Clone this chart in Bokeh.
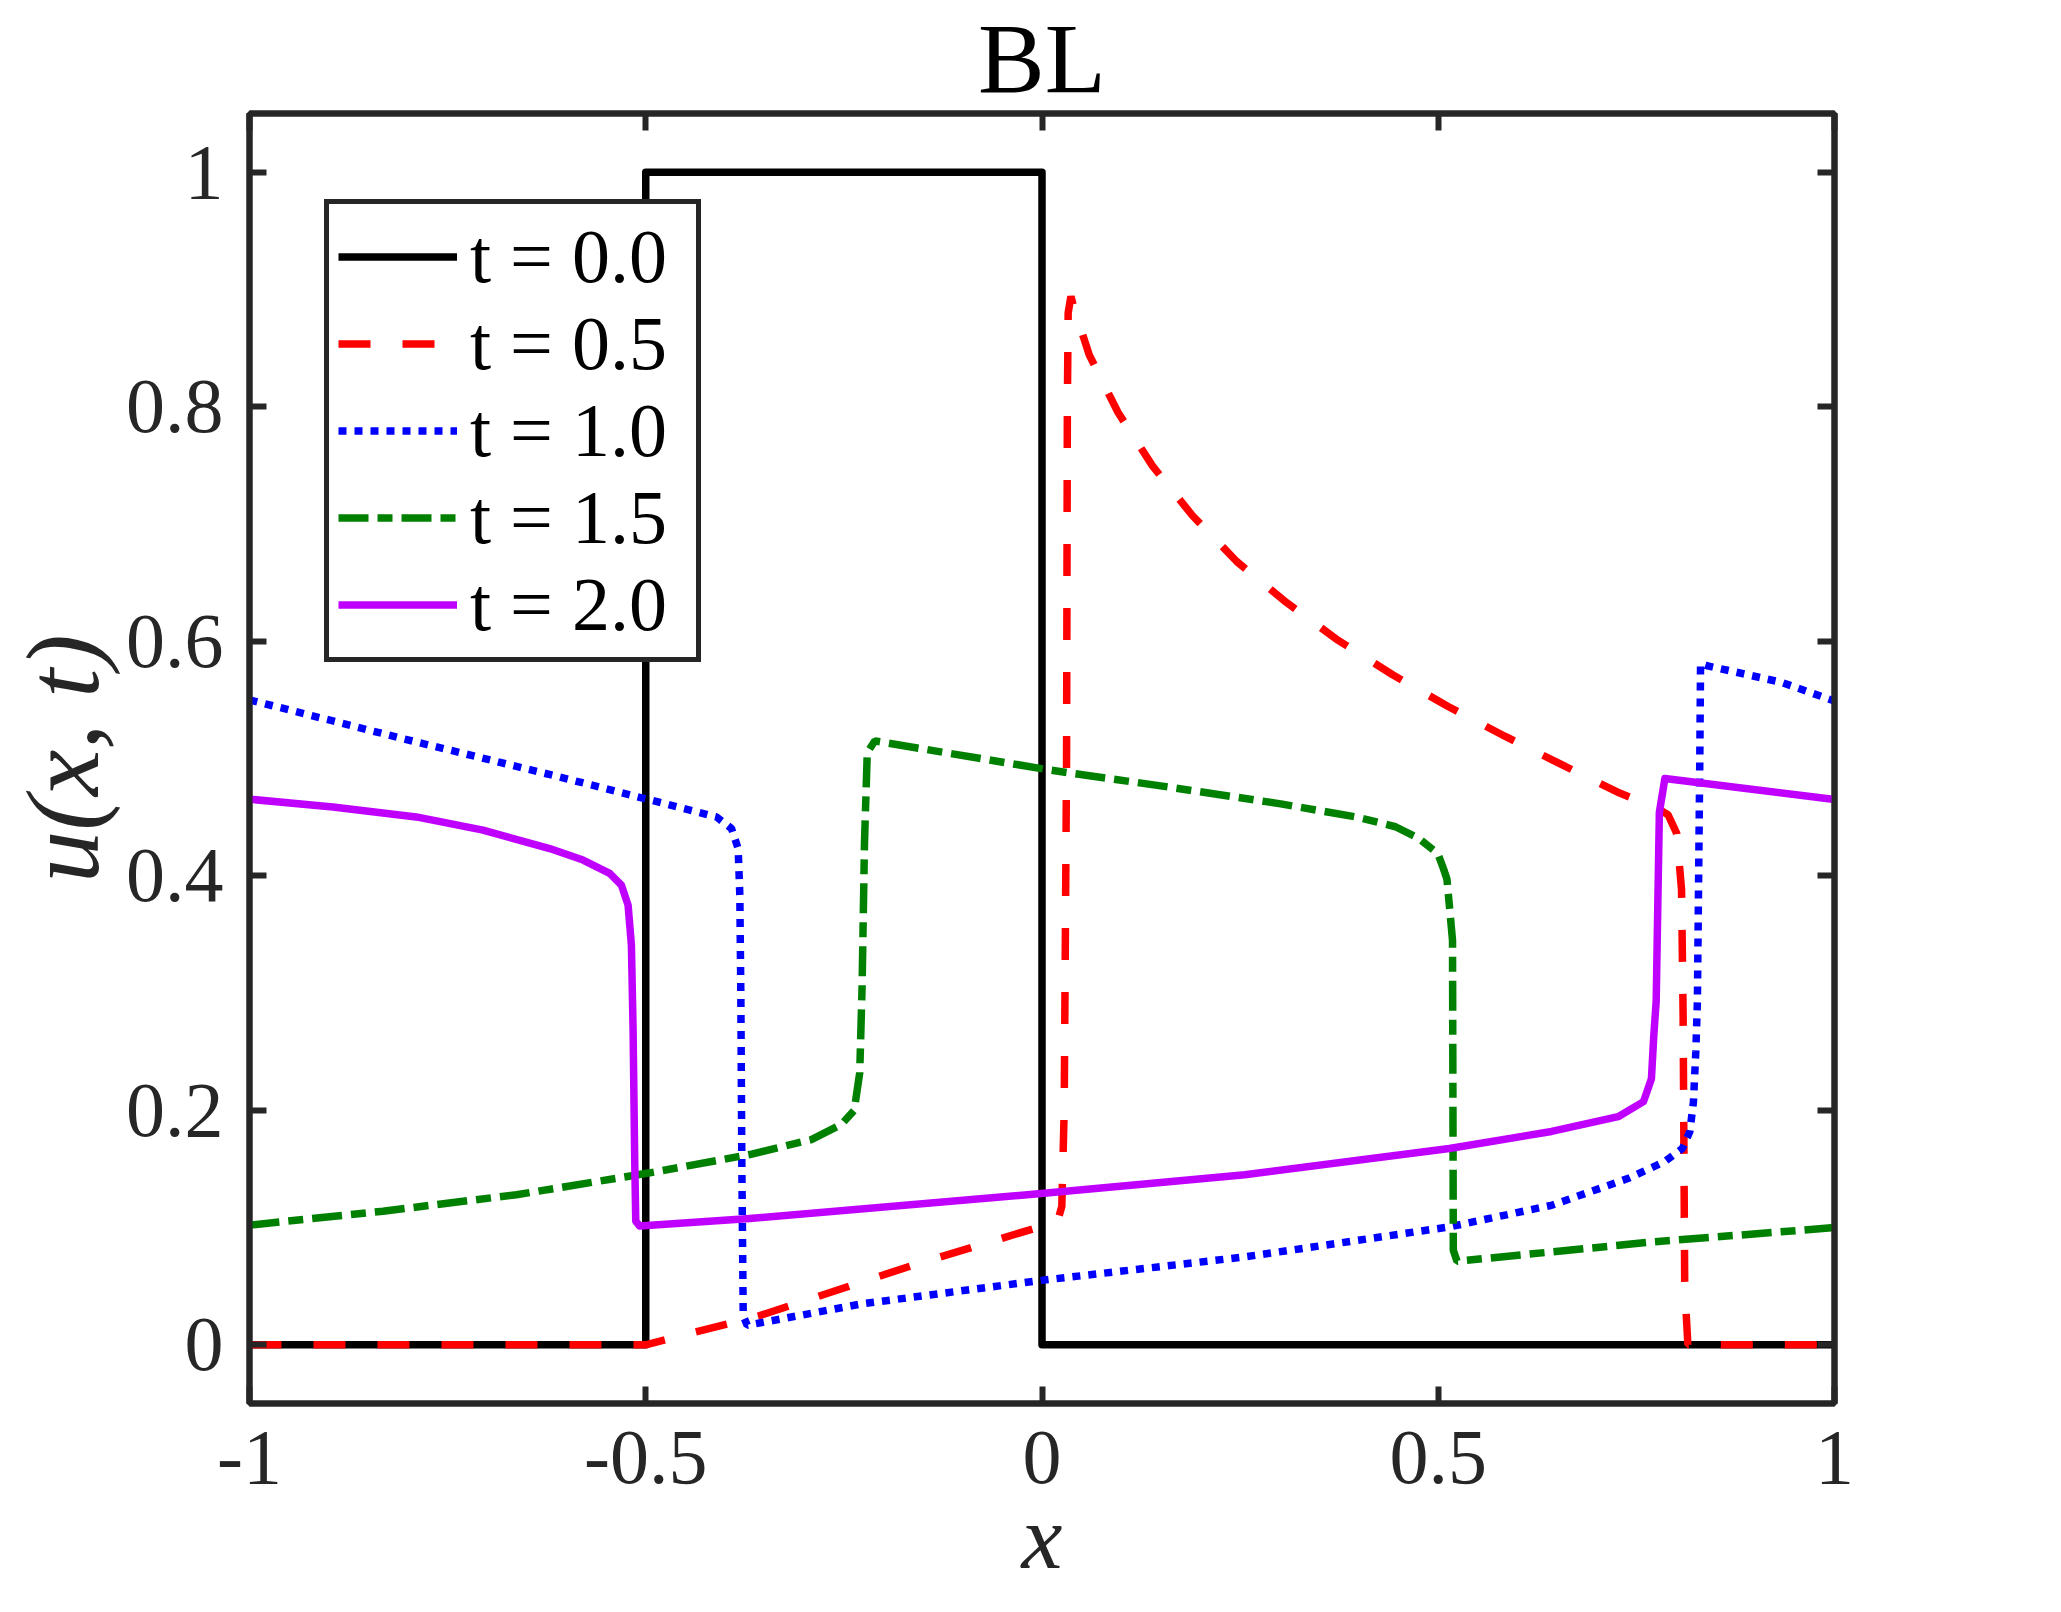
import numpy as np
from bokeh.plotting import figure
from bokeh.models import Range1d, LinearAxis, FixedTicker, Legend, LegendItem
from bokeh.embed import file_html
from bokeh.resources import INLINE

# ---------------- data ----------------
x_t00 = [-1.0, -0.5, -0.5, 0.0, 0.0, 1.0]
u_t00 = [0.0, 0.0, 1.0, 1.0, 0.0, 0.0]

x_t05 = [-1.0, -0.5, -0.356, -0.1625, -0.011, 0.020, 0.025, 0.028, 0.031, 0.032, 0.033,
         0.0365, 0.040, 0.0597, 0.096, 0.1394, 0.190, 0.2457, 0.3086, 0.3738, 0.4424,
         0.5125, 0.584, 0.6565, 0.7289, 0.775, 0.790, 0.801, 0.807, 0.809, 0.811, 0.815, 1.0]
u_t05 = [0.0, 0.0, 0.025, 0.068, 0.099, 0.106, 0.118, 0.200, 0.500, 0.800, 0.880,
         0.894, 0.885, 0.844, 0.795, 0.7495, 0.707, 0.668, 0.633, 0.6007, 0.5714,
         0.5443, 0.519, 0.4945, 0.4705, 0.458, 0.452, 0.436, 0.388, 0.280, 0.050, 0.0, 0.0]

x_t10 = [-1.0, -0.807, -0.613, -0.5013, -0.4108, -0.3918, -0.3834, -0.3813, -0.380, -0.3788,
         -0.377, -0.372, -0.227, -0.001, 0.256, 0.514, 0.643, 0.740, 0.785, 0.808, 0.8175,
         0.822, 0.825, 0.827, 0.830, 0.831, 0.840, 0.933, 1.0]
u_t10 = [0.550, 0.517, 0.485, 0.4658, 0.4502, 0.4403, 0.4232, 0.3836, 0.298, 0.157,
         0.025, 0.0167, 0.035, 0.055, 0.075, 0.1006, 0.119, 0.142, 0.156, 0.1675, 0.182,
         0.207, 0.250, 0.293, 0.497, 0.581, 0.579, 0.565, 0.549]

x_t15 = [-1.0, -0.8316, -0.6633, -0.4949, -0.3687, -0.291, -0.253, -0.237, -0.230, -0.227,
         -0.224, -0.2205, -0.211, 0.0114, 0.1563, 0.3013, 0.3977, 0.446, 0.4752, 0.4994,
         0.5066, 0.511, 0.518, 0.519, 0.5237, 0.771, 1.0]
u_t15 = [0.1021, 0.114, 0.128, 0.1467, 0.1623, 0.175, 0.188, 0.200, 0.232, 0.306,
         0.428, 0.505, 0.515, 0.490, 0.476, 0.4613, 0.450, 0.4418, 0.432, 0.419,
         0.406, 0.397, 0.345, 0.0807, 0.0713, 0.0878, 0.100]

x_t20 = [-1.0, -0.8948, -0.7896, -0.7054, -0.6212, -0.5791, -0.5455, -0.5307, -0.5223,
         -0.5181, -0.516, -0.5139, -0.5126, -0.5076, -0.3687, -0.001, 0.256, 0.514, 0.643,
         0.727, 0.759, 0.769, 0.772, 0.775, 0.779, 0.786, 1.0]
u_t20 = [0.4653, 0.4587, 0.4502, 0.4389, 0.4232, 0.4134, 0.402, 0.392, 0.375,
         0.341, 0.270, 0.1566, 0.1055, 0.1013, 0.1078, 0.129, 0.145, 0.1675, 0.182,
         0.1946, 0.2074, 0.227, 0.264, 0.293, 0.454, 0.483, 0.465]

legend_labels = ["t = 0.0", "t = 0.5", "t = 1.0", "t = 1.5", "t = 2.0"]
x_ticks = [-1, -0.5, 0, 0.5, 1]
x_tick_labels = ["-1", "-0.5", "0", "0.5", "1"]
y_ticks = [0, 0.2, 0.4, 0.6, 0.8, 1]
y_tick_labels = ["0", "0.2", "0.4", "0.6", "0.8", "1"]
title_text = "BL"
x_label = "x"
y_label = "u(x, t)"

# ---------------- styling / layout ----------------
X0, X1 = -1.0, 1.0
Y0, Y1 = -0.05, 1.05
W, H = 2045, 1596
FL, FT, FR, FB = 249, 111, 1834, 1403
AX = "#262626"
SERIF = "Liberation Serif"

p = figure(width=W, height=H, output_backend="svg", toolbar_location=None,
           x_range=Range1d(X0, X1), y_range=Range1d(Y0, Y1),
           min_border_left=FL, min_border_top=FT,
           min_border_right=W - FR, min_border_bottom=H - FB,
           background_fill_color="white", border_fill_color="white")
p.xgrid.visible = False
p.ygrid.visible = False
p.outline_line_color = AX
p.outline_line_width = 6
p.outline_line_alpha = 1.0

p.title.text = title_text
p.title.align = "center"
p.title.text_font = SERIF
p.title.text_font_size = "100px"
p.title.text_font_style = "normal"
p.title.text_color = "black"
p.title.standoff = 0

xt = FixedTicker(ticks=x_ticks)
yt = FixedTicker(ticks=y_ticks)

def style_axis(ax, ticker, labels, standoff, show):
    ax.ticker = ticker
    ax.axis_line_color = AX
    ax.axis_line_width = 6
    ax.major_tick_line_color = AX
    ax.major_tick_line_width = 6
    ax.major_tick_in = 17
    ax.major_tick_out = 0
    ax.minor_tick_line_color = None
    ax.major_label_text_font = SERIF
    ax.major_label_overrides = {t: l for t, l in zip(ticker.ticks, labels)}
    if show:
        ax.major_label_text_font_size = "78px"
        ax.major_label_text_color = AX
        ax.major_label_standoff = standoff
    else:
        ax.major_label_text_font_size = "1px"
        ax.major_label_text_color = None
        ax.major_label_standoff = 0

style_axis(p.xaxis[0], xt, x_tick_labels, 28, True)
style_axis(p.yaxis[0], yt, y_tick_labels, 26, True)

p.xaxis[0].axis_label = x_label
p.xaxis[0].axis_label_text_font = SERIF
p.xaxis[0].axis_label_text_font_size = "92px"
p.xaxis[0].axis_label_text_font_style = "italic"
p.xaxis[0].axis_label_text_color = AX
p.xaxis[0].axis_label_standoff = 0

p.yaxis[0].axis_label = y_label
p.yaxis[0].axis_label_text_font = SERIF
p.yaxis[0].axis_label_text_font_size = "104px"
p.yaxis[0].axis_label_text_font_style = "italic"
p.yaxis[0].axis_label_text_color = AX
p.yaxis[0].axis_label_standoff = 3

top_ax = LinearAxis()
right_ax = LinearAxis()
style_axis(top_ax, FixedTicker(ticks=x_ticks), x_tick_labels, 0, False)
style_axis(right_ax, FixedTicker(ticks=y_ticks), y_tick_labels, 0, False)
p.add_layout(top_ax, "above")
p.add_layout(right_ax, "right")

LW = 7.5
r0 = p.line(x_t00, u_t00, line_color="black", line_width=LW, line_join="round")
r1 = p.line(x_t05, u_t05, line_color="#FF0000", line_width=LW, line_dash="32 32")
r2 = p.line(x_t10, u_t10, line_color="#0000FF", line_width=LW, line_dash="8 8")
r3 = p.line(x_t15, u_t15, line_color="#008000", line_width=LW, line_dash="30 9 15 9")
r4 = p.line(x_t20, u_t20, line_color="#BF00FF", line_width=LW, line_join="round")

legend = Legend(items=[LegendItem(label=l, renderers=[r])
                       for l, r in zip(legend_labels, [r0, r1, r2, r3, r4])],
                location=(75, 741), orientation="vertical",
                label_text_font=SERIF, label_text_font_size="76px",
                label_text_color="black",
                glyph_width=119, glyph_height=85, label_height=85,
                label_width=217, label_standoff=13, spacing=0, padding=9,
                margin=0, border_line_color=AX, border_line_width=5,
                border_line_alpha=1.0,
                background_fill_color="white", background_fill_alpha=1.0)
p.add_layout(legend)

open("out.html", "w").write(file_html(p, INLINE))
